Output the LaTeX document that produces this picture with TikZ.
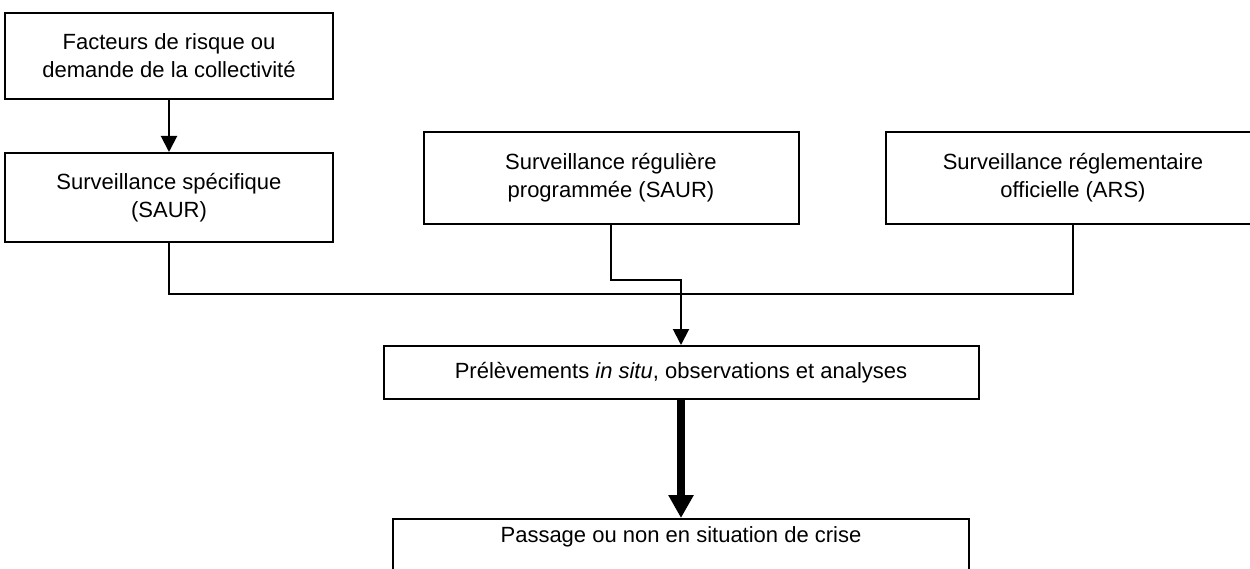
\documentclass[tikz,border=0pt]{standalone}
\usepackage{fontspec}
\setmainfont{Liberation Sans}
\usetikzlibrary{arrows.meta}
\begin{document}
\begin{tikzpicture}[x=1pt,y=-1pt,
  box/.style={draw, line width=2pt, align=center, inner sep=0pt,
    font=\fontsize{22pt}{28pt}\selectfont},
  conn/.style={line width=2pt},
  thin arrow/.style={conn, -{Triangle[width=16pt,length=16pt]}},
  thick arrow/.style={line width=7.5pt, -{Triangle[width=24pt,length=23pt]}},
  lbl/.style={font=\fontsize{22pt}{28pt}\selectfont, inner sep=0pt}]
\useasboundingbox (0,0) rectangle (1250,569);
\clip (0,0) rectangle (1250,569);
\node[box, minimum width=328pt, minimum height=86pt] (b1) at (169,56)
  {Facteurs de risque ou\\demande de la collectivité};
\node[box, minimum width=328pt, minimum height=89pt] (b2) at (169,197.5)
  {Surveillance spécifique\\(SAUR)};
\node[box, minimum width=375pt, minimum height=92pt] (b3) at (611,178)
  {Surveillance régulière\\programmée (SAUR)};
\node[box, minimum width=374pt, minimum height=92pt] (b4) at (1073,178)
  {Surveillance réglementaire\\officielle (ARS)};
\node[box, minimum width=595pt, minimum height=53pt] (b5) at (681,372.5)
  {Prélèvements \textit{in situ}, observations et analyses};
\node[box, minimum width=576pt, minimum height=100pt, anchor=north] (b6) at (681,518) {};
\node[lbl] (t6) at (681,537) {Passage ou non en situation de crise};
\draw[thin arrow] (b1.south) -- (b2.north);
\draw[conn] (b2.south) -- ++(0,51) -| (b4.south);
\draw[thin arrow] (b3.south) -- ++(0,55) -| (b5.north);
\draw[thick arrow] (b5.south) -- (b6.north);
\end{tikzpicture}
\end{document}
